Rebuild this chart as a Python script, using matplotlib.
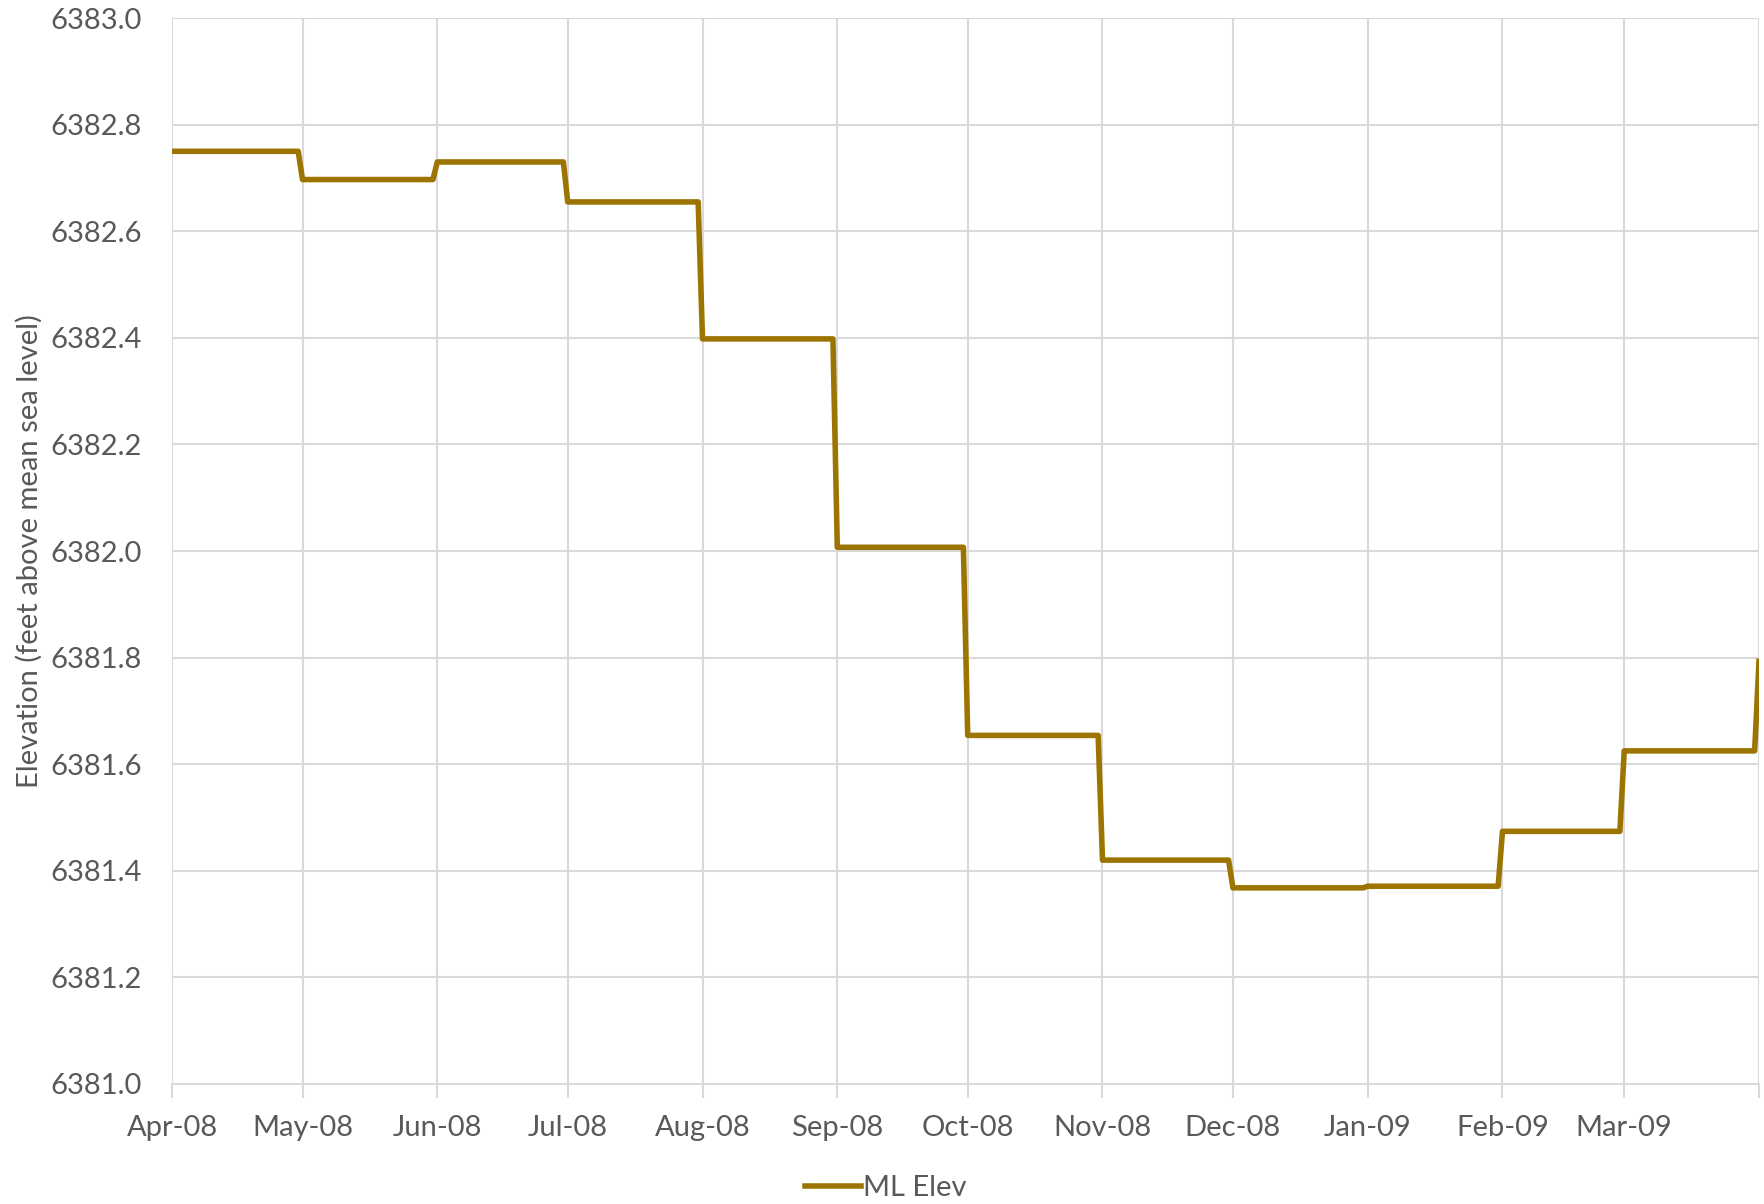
import matplotlib
matplotlib.use('Agg')
import matplotlib.pyplot as plt
import pandas as pd

# monthly lake elevation, held constant through each month
months = ['2008-04', '2008-05', '2008-06', '2008-07', '2008-08', '2008-09',
          '2008-10', '2008-11', '2008-12', '2009-01', '2009-02', '2009-03']
ml_elev = [6382.750, 6382.697, 6382.730, 6382.655, 6382.398, 6382.007,
           6381.654, 6381.420, 6381.368, 6381.371, 6381.474, 6381.625]
last_day = '2009-04-01'
last_elev = 6381.793

tick_months = months + ['2009-04']
tick_labels = ['Apr-08', 'May-08', 'Jun-08', 'Jul-08', 'Aug-08', 'Sep-08',
               'Oct-08', 'Nov-08', 'Dec-08', 'Jan-09', 'Feb-09', 'Mar-09', '']

GRID = '#d9d9d9'
TEXT = '#595959'
LINE = '#9c7500'
FS = 21

plt.rcParams['font.family'] = ['Lato', 'DejaVu Sans']

dates = []
elev = []
for m, v in zip(months, ml_elev):
    start = pd.Timestamp(m + '-01')
    end = start + pd.offsets.MonthEnd(0)
    dates += [start, end]
    elev += [v, v]
dates.append(pd.Timestamp(last_day))
elev.append(last_elev)

fig = plt.figure(figsize=(17.65, 12.04), dpi=100)
ax = fig.add_axes([0.0975, 0.0997, 0.8991, 0.8853])

ax.plot(dates, elev, color=LINE, linewidth=4.0, solid_joinstyle='round',
        label='ML Elev')

ax.set_ylim(6381.0, 6383.0)
ax.set_yticks([6381.0 + 0.2 * i for i in range(11)])
ax.yaxis.set_major_formatter(matplotlib.ticker.FormatStrFormatter('%.1f'))

ticks = [pd.Timestamp(m + '-01') for m in tick_months]
ax.set_xlim(ticks[0], ticks[-1])
ax.set_xticks(ticks)
ax.set_xticklabels(tick_labels)

ax.grid(True, color=GRID, linewidth=1.5)
ax.set_axisbelow(True)
for side in ('top', 'right', 'left'):
    ax.spines[side].set_visible(False)
ax.spines['bottom'].set_color(GRID)
ax.spines['bottom'].set_linewidth(1.5)

ax.tick_params(axis='y', length=0, pad=22, labelsize=FS, labelcolor=TEXT)
ax.tick_params(axis='x', length=10, width=1.5, color=GRID, pad=12,
               labelsize=FS, labelcolor=TEXT)

ax.set_ylabel('Elevation (feet above mean sea level)', fontsize=FS,
              color=TEXT, labelpad=5)

fig.legend(loc='center', bbox_to_anchor=(0.502, 0.013), frameon=False,
           fontsize=FS, handlelength=1.9, handletextpad=0.1,
           labelcolor=TEXT)

fig.savefig('out.png', dpi=100, facecolor='white')
